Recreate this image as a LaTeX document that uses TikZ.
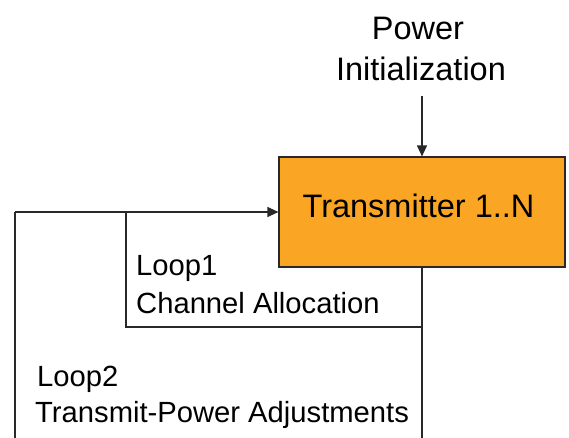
\documentclass[tikz,border=0pt]{standalone}
\usepackage{fontspec}
\setmainfont{Liberation Sans}
\usetikzlibrary{arrows.meta}
\definecolor{txorange}{RGB}{250,166,36}
\definecolor{linegray}{RGB}{40,40,40}
\tikzset{
  wire/.style={draw=linegray, line width=1.2pt},
  arr/.style={wire, -{Triangle[length=11pt,width=10pt]}},
  txbox/.style={draw=linegray, line width=1.2pt, fill=txorange,
    minimum width=286pt, minimum height=110pt, inner sep=0pt},
  bigtext/.style={inner sep=0pt, anchor=base, font=\fontsize{32.5}{39}\selectfont},
  looptext/.style={inner sep=0pt, anchor=base west, font=\fontsize{29.2}{36}\selectfont}
}
\begin{document}
\begin{tikzpicture}[x=1pt,y=-1pt]
  \useasboundingbox (0,0) rectangle (569,437);

  % transmitter block
  \node[txbox] (tx) at (422,212) {};
  \node[bigtext] (txlabel) at (418.5,217) {Transmitter 1..N};

  % initial power input
  \node[bigtext] (pw) at (418,39) {Power};
  \node[bigtext] (pinit) at (421,80) {Initialization};
  \draw[arr, shorten <=15pt] (pinit.south -| tx.north) -- (tx.north);

  % loop corners
  \coordinate (ibl) at (126,327);
  \coordinate (itl) at (126,212);
  \coordinate (otl) at (15,212);
  \coordinate (obl) at (15,441);
  \coordinate (junc) at (tx.south |- ibl);
  \coordinate (obr) at (tx.south |- obl);

  % loop 1: channel allocation
  \draw[wire] (tx.south) -- (junc) -- (ibl) -- (itl);
  % loop 2: transmit-power adjustments
  \draw[wire] (junc) -- (obr);
  \draw[wire] (obl) -- (otl);
  \draw[arr] (otl) -- (tx.west);

  % loop labels
  \node[looptext] (l1) at (136,275) {Loop1};
  \node[looptext] (l1t) at (136,313) {Channel Allocation};
  \node[looptext] (l2) at (37,386) {Loop2};
  \node[looptext] (l2t) at (35,422) {Transmit-Power Adjustments};
\end{tikzpicture}
\end{document}
